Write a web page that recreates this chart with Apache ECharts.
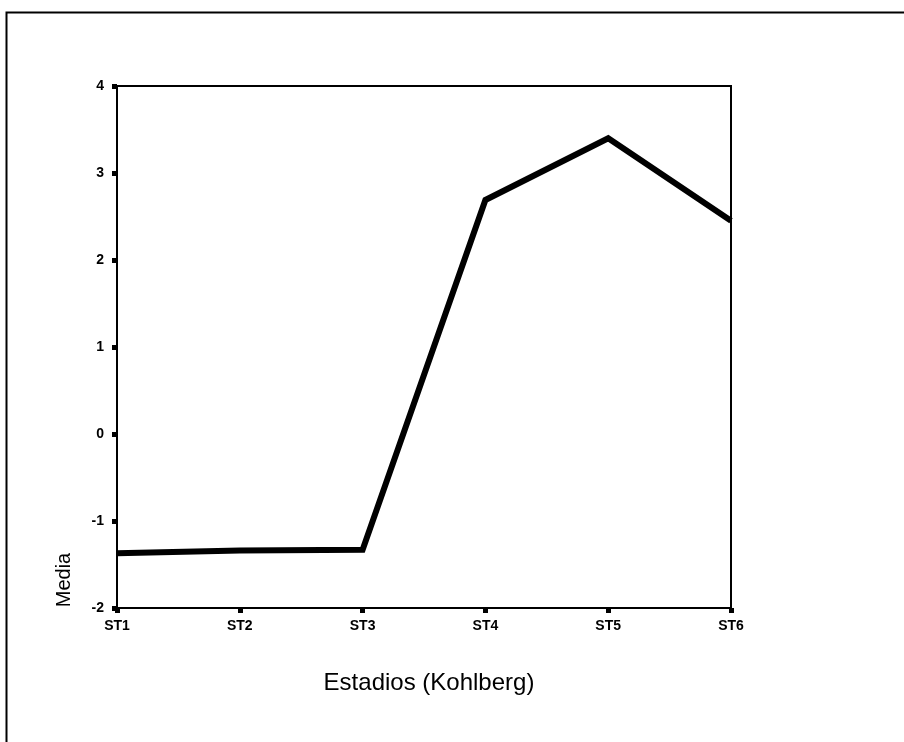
<!DOCTYPE html>
<html>
<head>
<meta charset="utf-8">
<script src="https://cdn.jsdelivr.net/npm/echarts@6/dist/echarts.min.js"></script>
<style>
html,body{margin:0;padding:0;background:#fff;}
#chart{width:904px;height:742px;}
</style>
</head>
<body>
<div id="chart"></div>
<script>
var categories = ['ST1', 'ST2', 'ST3', 'ST4', 'ST5', 'ST6'];
var mediaValues = [-1.37, -1.34, -1.33, 2.69, 3.40, 2.45];
var yTicks = [-2, -1, 0, 1, 2, 3, 4];
var xAxisTitle = 'Estadios (Kohlberg)';
var yAxisTitle = 'Media';

var chart = echarts.init(document.getElementById('chart'), null, {renderer: 'canvas'});
var font = "'Liberation Sans', Arial, sans-serif";
var option = {
  backgroundColor: '#ffffff',
  animation: false,
  grid: {
    left: 117, right: 173, top: 86, bottom: 134,
    show: true, borderColor: '#000', borderWidth: 2, backgroundColor: 'transparent'
  },
  xAxis: {
    type: 'category',
    data: categories,
    boundaryGap: false,
    axisLine: {onZero: false, lineStyle: {color: '#000', width: 2}},
    axisTick: {show: true, alignWithLabel: true, length: 5, lineStyle: {color: '#000', width: 5}},
    axisLabel: {color: '#000', fontFamily: font, fontSize: 14, fontWeight: 'bold', margin: 11},
    splitLine: {show: false},
    name: xAxisTitle,
    nameLocation: 'middle',
    nameGap: 63,
    nameTextStyle: {color: '#000', fontFamily: font, fontSize: 24, verticalAlign: 'top', padding: [0, 0, 0, 10]}
  },
  yAxis: {
    type: 'value',
    min: yTicks[0],
    max: yTicks[yTicks.length - 1],
    interval: 1,
    axisLine: {show: true, onZero: false, lineStyle: {color: '#000', width: 2}},
    axisTick: {show: true, length: 5, lineStyle: {color: '#000', width: 5}},
    axisLabel: {color: '#000', fontFamily: font, fontSize: 14, fontWeight: 'bold', margin: 13},
    splitLine: {show: false}
  },
  graphic: [
    {type: 'rect', left: 4, top: 10, shape: {width: 1000, height: 1000},
     style: {fill: null, stroke: '#000', lineWidth: 2}, z: 100, silent: true},
    {type: 'text', x: 64, y: 580, rotation: Math.PI / 2,
     style: {text: yAxisTitle, fill: '#000', font: '20px ' + font, align: 'center', verticalAlign: 'middle'}}
  ],
  series: [{
    type: 'line',
    data: mediaValues,
    showSymbol: false,
    symbol: 'none',
    lineStyle: {color: '#000', width: 6, join: 'miter', cap: 'butt'},
    clip: true
  }]
};
chart.setOption(option);
</script>
</body>
</html>
